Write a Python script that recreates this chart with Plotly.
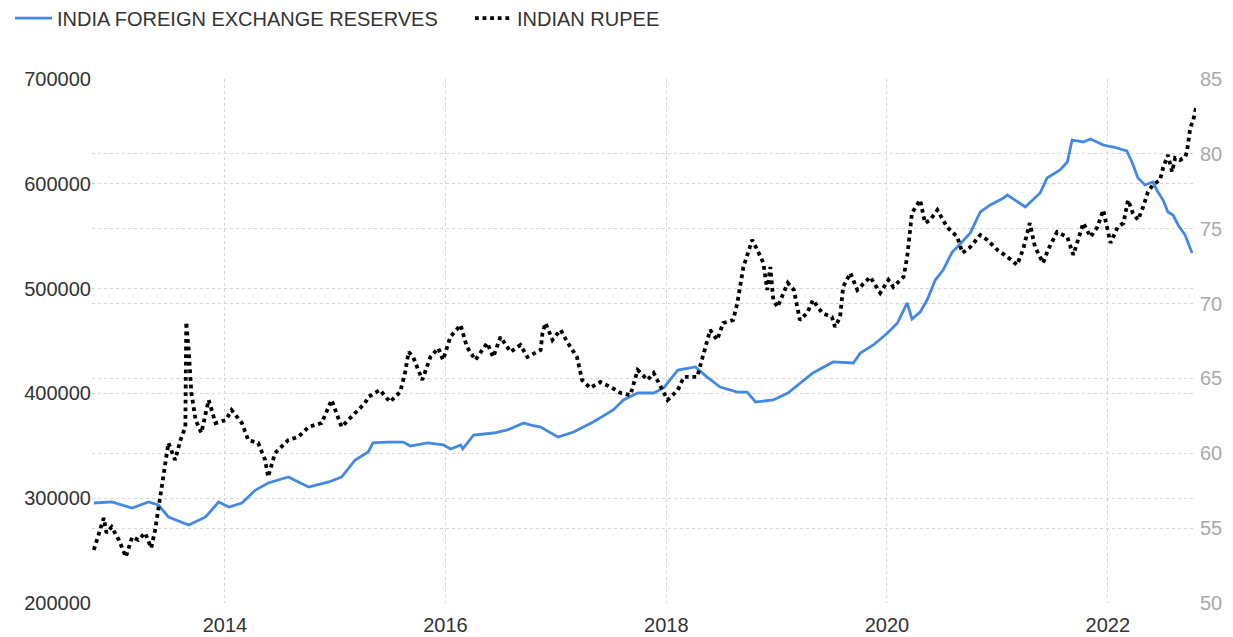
import plotly.graph_objects as go

# India foreign exchange reserves (USD million)
res_dates = [
    "2012-10-24", "2012-12-22", "2013-02-28", "2013-04-23", "2013-05-26", "2013-06-28",
    "2013-09-03", "2013-10-29", "2013-12-11", "2014-01-14", "2014-02-26", "2014-04-12",
    "2014-05-24", "2014-07-30", "2014-10-05", "2014-12-10", "2015-01-22", "2015-03-08",
    "2015-04-20", "2015-05-06", "2015-06-22", "2015-08-14", "2015-09-07", "2015-11-02",
    "2015-12-25", "2016-01-18", "2016-02-20", "2016-02-27", "2016-04-03", "2016-06-08",
    "2016-07-24", "2016-09-16", "2016-10-09", "2016-11-11", "2017-01-07", "2017-02-28",
    "2017-05-04", "2017-07-09", "2017-08-12", "2017-09-28", "2017-11-20", "2017-12-23",
    "2018-02-08", "2018-04-07", "2018-05-16", "2018-06-28", "2018-08-24", "2018-09-26",
    "2018-10-23", "2018-12-21", "2019-02-07", "2019-03-19", "2019-05-01", "2019-07-07",
    "2019-09-12", "2019-10-05", "2019-11-17", "2020-01-03", "2020-02-05", "2020-03-08",
    "2020-03-24", "2020-04-20", "2020-05-13", "2020-06-09", "2020-07-05", "2020-08-04",
    "2020-08-21", "2020-10-03", "2020-11-05", "2020-12-08", "2021-01-21", "2021-02-03",
    "2021-03-07", "2021-04-03", "2021-05-22", "2021-06-14", "2021-07-27", "2021-08-20",
    "2021-09-05", "2021-10-12", "2021-11-05", "2021-12-17", "2022-01-20", "2022-02-19",
    "2022-03-05", "2022-03-22", "2022-04-11", "2022-05-04", "2022-05-30", "2022-06-16",
    "2022-07-03", "2022-07-19", "2022-08-05", "2022-08-22", "2022-09-14", "2022-09-24",
    "2022-10-07",
]
res_values = [
    295400, 296400, 290650, 296400, 293500, 282100,
    274400, 282100, 296400, 291600, 295400, 307800,
    314500, 320200, 310700, 315500, 320200, 336500,
    344100, 352700, 353600, 353600, 349800, 352700,
    350800, 347000, 350800, 347000, 360300, 362200,
    365100, 371800, 369800, 367900, 358400, 363200,
    372700, 384200, 393700, 400400, 400400, 405200,
    422300, 425200, 415600, 406100, 401300, 401300,
    391800, 393700, 400400, 409900, 419500, 430000,
    429000, 438500, 446200, 457600, 467200, 486300,
    471000, 477700, 489100, 508200, 517700, 534900,
    539700, 553100, 573100, 579800, 586500, 589300,
    582700, 577900, 591200, 605500, 613200, 620800,
    641800, 639900, 642700, 637000, 635100, 632300,
    631300, 620800, 605500, 598900, 601700, 592200,
    584500, 573100, 570200, 560700, 551100, 543500,
    534000,
]

# Indian rupee per USD
inr_dates = [
    "2012-10-24", "2012-11-10", "2012-11-26", "2012-12-05", "2012-12-22", "2013-01-15",
    "2013-02-07", "2013-02-28", "2013-03-20", "2013-04-12", "2013-05-02", "2013-05-15",
    "2013-06-01", "2013-06-18", "2013-06-28", "2013-07-20", "2013-08-07", "2013-08-23",
    "2013-08-26", "2013-09-03", "2013-09-12", "2013-09-26", "2013-10-15", "2013-11-08",
    "2013-12-01", "2014-01-04", "2014-01-23", "2014-02-26", "2014-03-19", "2014-04-21",
    "2014-05-14", "2014-05-24", "2014-06-16", "2014-07-30", "2014-09-01", "2014-10-05",
    "2014-11-17", "2014-12-20", "2015-01-22", "2015-03-08", "2015-04-10", "2015-04-20",
    "2015-05-29", "2015-07-01", "2015-08-04", "2015-08-20", "2015-09-01", "2015-09-16",
    "2015-10-16", "2015-11-12", "2015-12-08", "2015-12-24", "2016-01-17", "2016-02-20",
    "2016-03-12", "2016-04-09", "2016-05-18", "2016-06-07", "2016-07-01", "2016-08-03",
    "2016-09-05", "2016-09-28", "2016-11-11", "2016-11-17", "2016-11-27", "2016-12-20",
    "2017-01-16", "2017-02-09", "2017-03-11", "2017-03-28", "2017-04-24", "2017-05-27",
    "2017-06-30", "2017-08-02", "2017-09-04", "2017-09-28", "2017-10-31", "2017-11-20",
    "2018-01-05", "2018-02-08", "2018-02-28", "2018-04-13", "2018-04-30", "2018-05-26",
    "2018-06-18", "2018-07-08", "2018-08-10", "2018-08-24", "2018-09-13", "2018-10-12",
    "2018-10-29", "2018-11-18", "2018-12-01", "2018-12-11", "2018-12-21", "2019-01-04",
    "2019-02-07", "2019-02-27", "2019-03-19", "2019-04-12", "2019-05-01", "2019-06-01",
    "2019-07-03", "2019-07-13", "2019-07-30", "2019-08-09", "2019-09-02", "2019-09-25",
    "2019-11-07", "2019-12-10", "2020-01-06", "2020-01-22", "2020-02-25", "2020-03-08",
    "2020-03-24", "2020-04-20", "2020-05-06", "2020-05-23", "2020-06-16", "2020-07-18",
    "2020-08-21", "2020-09-07", "2020-10-03", "2020-11-05", "2020-11-28", "2021-01-01",
    "2021-02-03", "2021-03-07", "2021-03-26", "2021-04-18", "2021-05-05", "2021-06-01",
    "2021-06-17", "2021-07-17", "2021-08-20", "2021-09-09", "2021-10-12", "2021-11-05",
    "2021-11-28", "2021-12-17", "2022-01-10", "2022-02-03", "2022-02-22", "2022-03-09",
    "2022-03-25", "2022-04-11", "2022-04-28", "2022-05-14", "2022-05-30", "2022-06-23",
    "2022-07-03", "2022-07-19", "2022-08-02", "2022-08-12", "2022-08-28", "2022-09-14",
    "2022-09-20", "2022-09-24", "2022-10-01", "2022-10-11", "2022-10-20",
]
inr_values = [
    53.54, 54.68, 55.68, 54.68, 55.08, 54.21,
    53.07, 54.41, 54.21, 54.68, 53.67, 54.88,
    57.08, 59.08, 60.69, 59.55, 60.89, 61.76,
    68.77, 66.90, 64.03, 62.22, 61.36, 63.56,
    62.02, 62.22, 62.89, 62.02, 60.89, 60.69,
    59.55, 58.42, 60.02, 60.89, 61.09, 61.76,
    62.02, 63.56, 61.76, 62.69, 63.36, 63.76,
    64.23, 63.43, 64.10, 65.36, 66.77, 66.43,
    64.90, 66.43, 67.03, 66.23, 67.77, 68.57,
    67.10, 66.23, 67.37, 66.43, 67.77, 66.77,
    67.23, 66.43, 66.90, 68.04, 68.70, 67.57,
    68.24, 67.37, 66.43, 64.90, 64.36, 64.76,
    64.43, 64.03, 63.89, 65.56, 64.90, 65.36,
    63.56, 64.23, 65.10, 65.10, 66.43, 68.24,
    67.57, 68.70, 68.90, 70.04, 72.44, 74.25,
    73.58, 72.71, 70.91, 72.44, 70.24, 69.77,
    71.38, 70.91, 68.90, 69.37, 70.24, 69.37,
    69.10, 68.44, 69.10, 71.11, 72.04, 70.91,
    71.78, 70.71, 71.58, 71.11, 71.78, 73.11,
    76.05, 76.92, 75.38, 75.58, 76.25, 75.12,
    74.45, 73.38, 73.78, 74.58, 74.25, 73.58,
    73.11, 72.58, 73.58, 75.38, 73.78, 72.71,
    73.58, 74.78, 74.45, 73.25, 75.38, 74.45,
    75.12, 76.25, 74.05, 75.12, 75.38, 76.92,
    76.05, 75.58, 76.45, 77.46, 77.92, 78.26,
    79.06, 79.93, 78.79, 79.73, 79.59, 79.79,
    80.13, 80.80, 81.73, 82.26, 83.07,
]

x_range = ["2012-10-18", "2022-10-20"]
left_range = [200000, 700000]
right_range = [50, 85]

FONT = "Liberation Sans, Arial, sans-serif"
GRID = "#d4d4d4"
TICK_SIZE = 20

fig = go.Figure()
fig.add_trace(go.Scatter(
    x=res_dates, y=res_values, name="INDIA FOREIGN EXCHANGE RESERVES",
    mode="lines", line=dict(color="#4189e5", width=2.8), yaxis="y",
))
fig.add_trace(go.Scatter(
    x=inr_dates, y=inr_values, name="INDIAN RUPEE",
    mode="lines", line=dict(color="#000000", width=3.8, dash="dot"), yaxis="y2",
))

fig.update_layout(
    width=1233, height=637,
    margin=dict(l=92, r=37, t=79, b=34, autoexpand=False),
    paper_bgcolor="white", plot_bgcolor="white",
    font=dict(family=FONT, size=TICK_SIZE, color="#333333"),
    showlegend=True,
    legend=dict(
        orientation="h", x=-0.0743, xanchor="left", y=1.116, yanchor="middle",
        font=dict(family=FONT, size=20, color="#333333"),
        bgcolor="rgba(0,0,0,0)", itemwidth=37, tracegroupgap=0,
        entrywidth=408, entrywidthmode="pixels",
    ),
    xaxis=dict(
        type="date", range=x_range, tick0="2014-01-01", dtick="M24",
        tickformat="%Y", showgrid=True, gridcolor=GRID, griddash="dot",
        gridwidth=1, zeroline=False, showline=False, ticks="",
        ticklabelstandoff=8,
        tickfont=dict(family=FONT, size=TICK_SIZE, color="#333333"),
    ),
    yaxis=dict(
        range=left_range, dtick=100000, tickformat="d", showgrid=True,
        gridcolor=GRID, griddash="dot", gridwidth=1, zeroline=False,
        showline=False, ticks="",
        tickfont=dict(family=FONT, size=TICK_SIZE, color="#333333"),
    ),
    yaxis2=dict(
        range=right_range, dtick=5, overlaying="y", side="right",
        showgrid=True, gridcolor=GRID, griddash="dot", gridwidth=1,
        zeroline=False, showline=False, ticks="", ticklabelstandoff=3,
        tickfont=dict(family=FONT, size=TICK_SIZE, color="#aaaaaa"),
    ),
)

fig.write_html(
    "out.html",
    config={"displayModeBar": False},
    post_script="document.body.style.margin='0px';"
                "document.documentElement.style.overflow='hidden';",
)
